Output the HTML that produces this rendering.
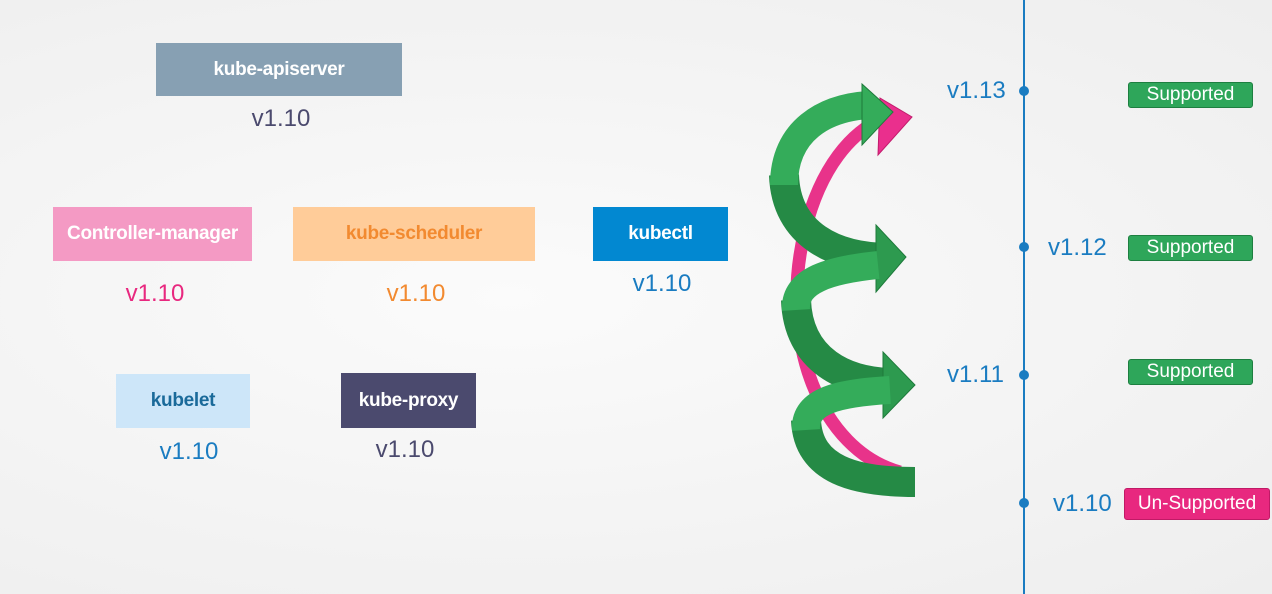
<!DOCTYPE html>
<html><head><style>
html,body{margin:0;padding:0}
body{width:1272px;height:594px;overflow:hidden;position:relative;font-family:"Liberation Sans",sans-serif;background:radial-gradient(ellipse at 40% 50%,#fbfbfb 0%,#f3f3f3 60%,#eeeeee 100%)}
.b{position:absolute;display:flex;align-items:center;justify-content:center;font-weight:bold;font-size:19px;color:#fff;letter-spacing:-0.3px}
.v{position:absolute;font-size:24px;text-align:center;width:120px}
.t{position:absolute;font-size:24px;color:#1a7cc1}
.s{position:absolute;background:#2ea65a;border:1px solid #1d7f40;border-radius:3px;color:#fff;font-size:19px;display:flex;align-items:center;justify-content:center}
</style></head><body>
<div class="b" style="left:156px;top:43px;width:246px;height:53px;background:#87a0b3">kube-apiserver</div>
<div class="v" style="left:221px;top:105px;color:#4b4a6e">v1.10</div>
<div class="b" style="left:53px;top:207px;width:199px;height:54px;background:#f49ac4">Controller-manager</div>
<div class="v" style="left:95px;top:280px;color:#e8287f">v1.10</div>
<div class="b" style="left:293px;top:207px;width:242px;height:54px;background:#ffcc99;color:#f28a30">kube-scheduler</div>
<div class="v" style="left:356px;top:280px;color:#f28a30">v1.10</div>
<div class="b" style="left:593px;top:207px;width:135px;height:54px;background:#0288d1">kubectl</div>
<div class="v" style="left:602px;top:270px;color:#1a7cc1">v1.10</div>
<div class="b" style="left:116px;top:374px;width:134px;height:54px;background:#cde6f9;color:#1a6a9a">kubelet</div>
<div class="v" style="left:129px;top:438px;color:#1a7cc1">v1.10</div>
<div class="b" style="left:341px;top:373px;width:135px;height:55px;background:#4b4a6e">kube-proxy</div>
<div class="v" style="left:345px;top:436px;color:#4b4a6e">v1.10</div>

<svg style="position:absolute;left:0;top:0" width="1272" height="594">
<line x1="1024" y1="0" x2="1024" y2="594" stroke="#1a7cc1" stroke-width="2"/>
<circle cx="1024" cy="91" r="5" fill="#1a7cc1"/>
<circle cx="1024" cy="247" r="5" fill="#1a7cc1"/>
<circle cx="1024" cy="375" r="5" fill="#1a7cc1"/>
<circle cx="1024" cy="503" r="5" fill="#1a7cc1"/>
<!-- pink -->
<path d="M 900 472 C 820 450, 778 340, 805 230 C 820 170, 850 130, 890 115" fill="none" stroke="#e8338a" stroke-width="13"/>
<polygon points="880,98 912,117 878,155" fill="#ea2f8d" stroke="#c21c6c"/>
<g stroke="#1e7a3b" stroke-width="1">
<path d="M 784 175 C 786 235, 835 258, 890 258" fill="none" stroke="#258a45" stroke-width="30"/>
<polygon points="876,225 906,257 876,292" fill="#2d9a4f"/>
<path d="M 796 300 C 798 360, 845 383, 895 383" fill="none" stroke="#258a45" stroke-width="30"/>
<polygon points="883,352 915,385 883,418" fill="#2d9a4f"/>
<path d="M 806 420 C 808 470, 855 482, 915 482" fill="none" stroke="#258a45" stroke-width="30"/>
<path d="M 784 185 C 784 130, 825 108, 868 105" fill="none" stroke="#34ac5a" stroke-width="28"/>
<polygon points="862,84 893,112 862,145" fill="#34ac5a"/>
<path d="M 796 310 C 794 280, 830 270, 878 265" fill="none" stroke="#34ac5a" stroke-width="28"/>
<path d="M 806 430 C 804 400, 840 393, 890 390" fill="none" stroke="#34ac5a" stroke-width="28"/>
</g>
</svg>

<div class="t" style="left:947px;top:77px">v1.13</div>
<div class="t" style="left:1048px;top:234px">v1.12</div>
<div class="t" style="left:947px;top:361px">v1.11</div>
<div class="t" style="left:1053px;top:490px">v1.10</div>
<div class="s" style="left:1128px;top:82px;width:123px;height:24px">Supported</div>
<div class="s" style="left:1128px;top:235px;width:123px;height:24px">Supported</div>
<div class="s" style="left:1128px;top:359px;width:123px;height:24px">Supported</div>
<div class="s" style="left:1124px;top:488px;width:144px;height:30px;background:#e8287f;border-color:#c01a66">Un-Supported</div>
</body></html>
